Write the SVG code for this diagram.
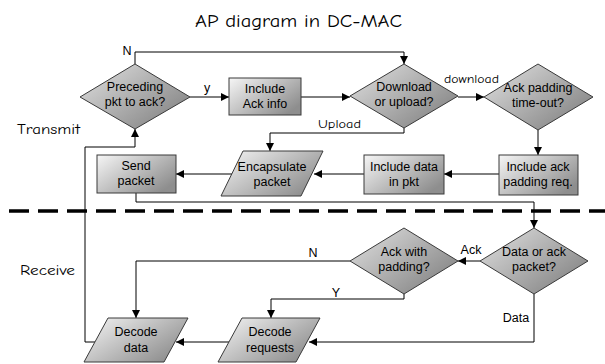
<svg xmlns="http://www.w3.org/2000/svg" width="605" height="364" viewBox="0 0 605 364">
  <defs>
    <linearGradient id="boxFill" x1="0" y1="0" x2="1" y2="0.7">
      <stop offset="0" stop-color="#f6f6f6"/>
      <stop offset="1" stop-color="#8e8e8e"/>
    </linearGradient>
    <linearGradient id="diaFill" x1="0" y1="0" x2="1" y2="0.8">
      <stop offset="0" stop-color="#e2e2e2"/>
      <stop offset="1" stop-color="#828282"/>
    </linearGradient>
    <marker id="arrow" viewBox="0 0 10 10" refX="10" refY="5" markerWidth="9" markerHeight="8" markerUnits="userSpaceOnUse" orient="auto">
      <path d="M0,0 L10,5 L0,10 Z" fill="#000"/>
    </marker>
    <style>
      .shape { stroke: #3a3a3a; stroke-width: 1; }
      .box { fill: url(#boxFill); }
      .dia { fill: url(#diaFill); }
      .lbl { font-family: "Liberation Sans", Arial, sans-serif; font-size: 12.5px; fill: #000; text-anchor: middle; }
      .comic { font-family: "Comic Sans MS", "Comic Neue", "DejaVu Sans", sans-serif; fill: #000; }
      .conn path { fill: none; stroke: #000; stroke-width: 1; marker-end: url(#arrow); }
    </style>
  </defs>

  <rect width="605" height="364" fill="#fff"/>

  <!-- headings -->
  <text class="comic" x="195" y="27" font-size="19" textLength="207" lengthAdjust="spacingAndGlyphs">AP diagram in DC-MAC</text>
  <text class="comic" x="17" y="134" font-size="13" textLength="63" lengthAdjust="spacingAndGlyphs">Transmit</text>
  <text class="comic" x="20" y="275" font-size="13" textLength="55" lengthAdjust="spacingAndGlyphs">Receive</text>

  <!-- section divider -->
  <line x1="9" y1="211" x2="605" y2="211" stroke="#000" stroke-width="3.5" stroke-dasharray="20 9"/>

  <!-- connectors -->
  <g id="connectors" class="conn">
    <path d="M135,64 V52 H404 V64"/>
    <path d="M190,97 H229"/>
    <path d="M301,97 H350"/>
    <path d="M458,97 H484"/>
    <path d="M538,130 V155"/>
    <path d="M499,174 H444"/>
    <path d="M364,174 H314"/>
    <path d="M404,128 V133 H270 V151"/>
    <path d="M232,174 H176"/>
    <path d="M136,193 V202 H534 V228"/>
    <path d="M95,342 H85 V147 H135 V129"/>
    <path d="M480,261 H458"/>
    <path d="M350,261 H136 V318"/>
    <path d="M404,294 V299 H271 V318"/>
    <path d="M534,294 V342 H309"/>
    <path d="M229,342 H176"/>
  </g>

  <!-- connector labels -->
  <g id="connector-labels">
    <text class="lbl" x="127" y="55">N</text>
    <text class="lbl" x="207" y="92">y</text>
    <text class="comic" x="444" y="83" font-size="12" textLength="55" lengthAdjust="spacingAndGlyphs">download</text>
    <text class="comic" x="318" y="128" font-size="12" textLength="43" lengthAdjust="spacingAndGlyphs">Upload</text>
    <text class="lbl" x="471" y="254">Ack</text>
    <text class="lbl" x="313" y="257">N</text>
    <text class="lbl" x="336" y="297">Y</text>
    <text class="lbl" x="516" y="322">Data</text>
  </g>

  <!-- transmit side -->
  <g id="preceding-pkt">
    <polygon class="shape dia" points="80,97 135,64 190,97 135,129"/>
    <text class="lbl" x="135" y="91">Preceding</text>
    <text class="lbl" x="135" y="106">pkt to ack?</text>
  </g>
  <g id="include-ack-info">
    <rect class="shape box" x="229" y="78" width="72" height="37"/>
    <text class="lbl" x="265" y="93">Include</text>
    <text class="lbl" x="265" y="108">Ack info</text>
  </g>
  <g id="download-upload">
    <polygon class="shape dia" points="350,96 404,64 458,96 404,128"/>
    <text class="lbl" x="404" y="91">Download</text>
    <text class="lbl" x="404" y="106">or upload?</text>
  </g>
  <g id="ack-padding-timeout">
    <polygon class="shape dia" points="484,97 538,64 593,97 538,130"/>
    <text class="lbl" x="538" y="92">Ack padding</text>
    <text class="lbl" x="538" y="107">time-out?</text>
  </g>
  <g id="include-ack-padding">
    <rect class="shape box" x="499" y="155" width="79" height="40"/>
    <text class="lbl" x="538" y="171">Include ack</text>
    <text class="lbl" x="538" y="186">padding req.</text>
  </g>
  <g id="include-data">
    <rect class="shape box" x="364" y="155" width="80" height="39"/>
    <text class="lbl" x="404" y="171">Include data</text>
    <text class="lbl" x="404" y="186">in pkt</text>
  </g>
  <g id="encapsulate-packet">
    <polygon class="shape box" points="243,151 323,151 301,196 221,196"/>
    <text class="lbl" x="272" y="171">Encapsulate</text>
    <text class="lbl" x="272" y="186">packet</text>
  </g>
  <g id="send-packet">
    <rect class="shape box" x="97" y="155" width="79" height="38"/>
    <text class="lbl" x="136" y="170">Send</text>
    <text class="lbl" x="136" y="185">packet</text>
  </g>

  <!-- receive side -->
  <g id="data-or-ack">
    <polygon class="shape dia" points="480,261 534,228 588,261 534,294"/>
    <text class="lbl" x="534" y="256">Data or ack</text>
    <text class="lbl" x="534" y="271">packet?</text>
  </g>
  <g id="ack-with-padding">
    <polygon class="shape dia" points="350,261 404,228 458,261 404,294"/>
    <text class="lbl" x="404" y="256">Ack with</text>
    <text class="lbl" x="404" y="271">padding?</text>
  </g>
  <g id="decode-data">
    <polygon class="shape box" points="108,318 188,318 164,362 84,362"/>
    <text class="lbl" x="136" y="336">Decode</text>
    <text class="lbl" x="136" y="352">data</text>
  </g>
  <g id="decode-requests">
    <polygon class="shape box" points="242,318 320,318 296,362 218,362"/>
    <text class="lbl" x="270" y="336">Decode</text>
    <text class="lbl" x="270" y="352">requests</text>
  </g>
</svg>
